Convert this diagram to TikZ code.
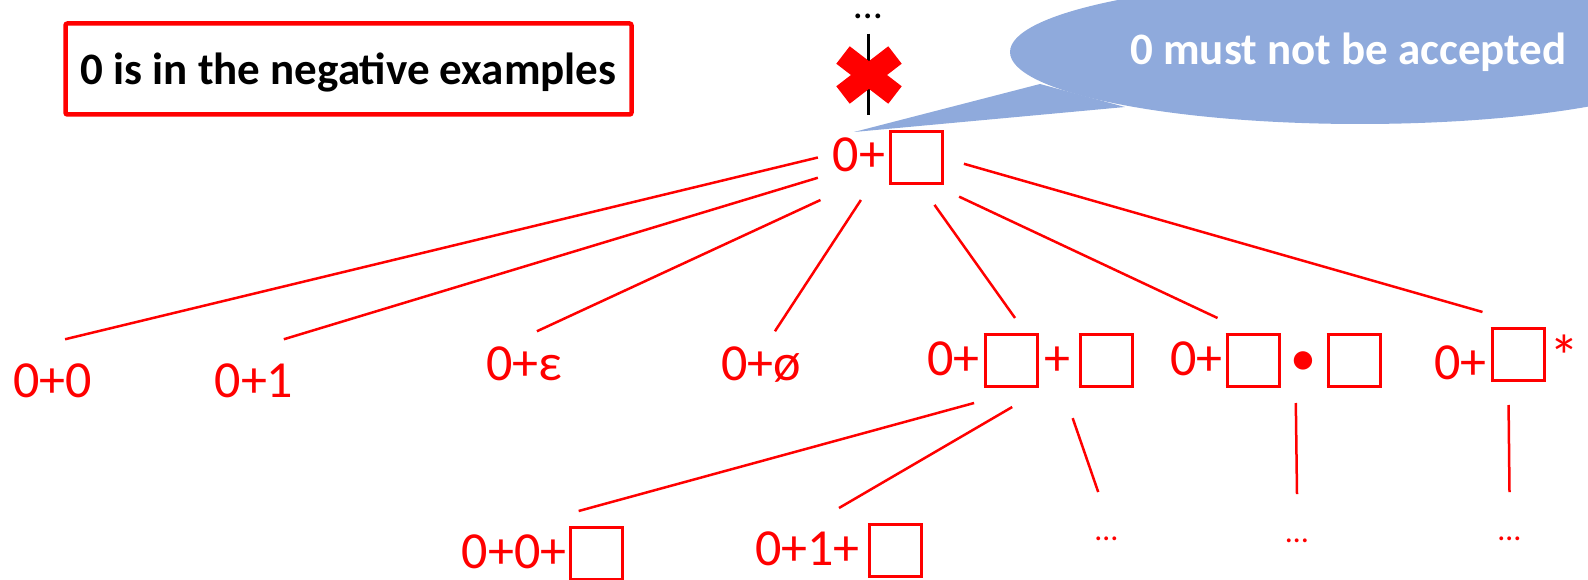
\documentclass[tikz,border=0pt]{standalone}
\usepackage{fontspec}
\setmainfont{Carlito}

\definecolor{callblue}{HTML}{8FAADC}

% empty slot of a regular expression
\newcommand{\hole}[1][-10pt]{\raisebox{#1}{\fboxsep=0pt\fboxrule=3pt\fbox{\rule{0pt}{49pt}\rule{49pt}{0pt}}}}

\begin{document}
\begin{tikzpicture}[x=1pt, y=-1pt,
  term/.style={red, inner sep=0pt, outer sep=15pt, anchor=base,
               font=\fontsize{52}{60}\selectfont},
  far/.style={outer sep=24pt},
  more/.style={red, inner sep=0pt, outer sep=45pt, font=\fontsize{32}{36}\selectfont},
  edge/.style={red, line width=2.5pt}]
\clip (0,0) rectangle (1588,580);

% note box
\node[draw=red, line width=4.5pt, rounded corners=2pt, minimum width=566pt,
      minimum height=91pt, text height=31pt, text depth=0pt,
      font=\fontsize{45}{50}\selectfont\bfseries] (neg) at (348.5,69)
  {0 is in the negative examples};

% callout
\fill[callblue] (1360,52) ellipse [x radius=350pt, y radius=72pt];
\fill[callblue] (854,132) -- (1040,84) -- (1125,107) -- cycle;
\node[white, anchor=base, font=\fontsize{45}{50}\selectfont\bfseries] (warn) at (1348.5,65)
  {0 must not be accepted};

% tree
\node[term] (root) at (888.5,172) {0+\kern4pt\hole};
\node[term, far] (c1) at (52.5,397) {0+0};
\node[term, far] (c2) at (254,397) {0+1};
\node[term] (c3) at (524,380) {0+ε};
\node[term] (c4) at (761,380) {0+ø};
\node[term] (c5) at (1030.5,375) {0+\kern4pt\hole\kern6pt+\kern8pt\hole};
\node[term] (c6) at (1276,375) {0+\kern3pt\hole\kern10pt•\kern10pt\hole};
\node[term] (c7) at (1507,379) {0+\kern4pt\hole[0pt]\kern4pt\raisebox{2pt}{\fontsize{60}{60}\selectfont*}};
\node[term] (g1) at (543,568) {0+0+\kern3pt\hole};
\node[term] (g2) at (839,565) {0+1+\kern8pt\hole};
\node[more] (m1) at (1106.5,539) {…};
\node[more] (m2) at (1297,541) {…};
\node[more] (m3) at (1509.5,539) {…};

\foreach \a/\b/\sh in {root.180/c1.73/0pt, root.196/c2.54/0pt, root.212/c3.68/0pt,
    root.237/c4.67/0pt, root.315/c5.110/6pt, root.331/c6.144/0pt, root.356/c7.120/5pt,
    c5.217/g1.50/0pt, c5.255/g2.90/8pt, c5.311/m1.100/16pt,
    c6.295/m2.90/0pt, c7.272/m3.90/8pt}
  \draw[edge, shorten <=\sh] (\a) -- (\b);

% branch above the root, ruled out
\node[inner sep=0pt, font=\fontsize{40}{44}\selectfont] (above) at (868,16) {…};
\draw[line width=3pt, shorten <=15pt] (above) -- (root.north -| above);
\draw[red, line width=22pt] (843,55) -- (895,95) (843,95) -- (895,55);
\end{tikzpicture}
\end{document}
